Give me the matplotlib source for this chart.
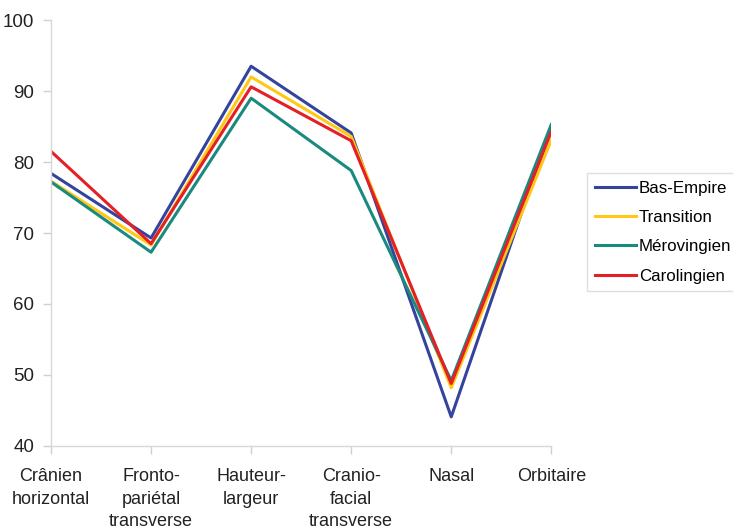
import matplotlib.pyplot as plt

plt.rcParams['font.family'] = ['Liberation Sans', 'DejaVu Sans']

categories = ['Crânien\nhorizontal', 'Fronto-\npariétal\ntransverse', 'Hauteur-\nlargeur',
              'Cranio-\nfacial\ntransverse', 'Nasal', 'Orbitaire']

bas_empire = [78.4, 69.3, 93.5, 84.1, 44.1, 85.0]
transition = [77.3, 68.3, 92.0, 83.6, 48.2, 83.1]
merovingien = [77.2, 67.3, 89.0, 78.8, 49.2, 85.3]
carolingien = [81.5, 68.5, 90.6, 83.0, 48.8, 84.3]

series = [
    ('Bas-Empire', bas_empire, '#34449c'),
    ('Transition', transition, '#ffc814'),
    ('Mérovingien', merovingien, '#1a8a80'),
    ('Carolingien', carolingien, '#e41f26'),
]

fig = plt.figure(figsize=(7.33, 5.29), dpi=100)
ax = fig.add_axes([0.0696, 0.157, 0.6825, 0.805])

x = range(len(categories))
for name, vals, col in series:
    ax.plot(x, vals, color=col, lw=2.2, label=name)

ax.set_xlim(0, 5)
ax.set_ylim(40, 100)
ax.set_yticks(range(40, 101, 10))
ax.set_xticks(list(x))
ax.set_xticklabels(categories, fontsize=13, linespacing=1.42, va='top')

for s in ['top', 'right']:
    ax.spines[s].set_visible(False)
for s in ['left', 'bottom']:
    ax.spines[s].set_color('#d8d8d8')
    ax.spines[s].set_linewidth(1.0)
ax.tick_params(axis='both', colors='#d0d0d0', labelcolor='#222222', length=6, width=1)
ax.tick_params(axis='y', labelsize=13.5, pad=6)
ax.tick_params(axis='x', pad=10)

leg = ax.legend(loc='center left', bbox_to_anchor=(1.072, 0.502), fontsize=12.2,
                frameon=True, fancybox=False, handlelength=2.4, handletextpad=0.2,
                borderpad=0.45, labelspacing=0.85, borderaxespad=0)
leg.get_frame().set_edgecolor('#d8d8d8')
leg.get_frame().set_linewidth(1.0)

fig.savefig('out.png', dpi=100)
